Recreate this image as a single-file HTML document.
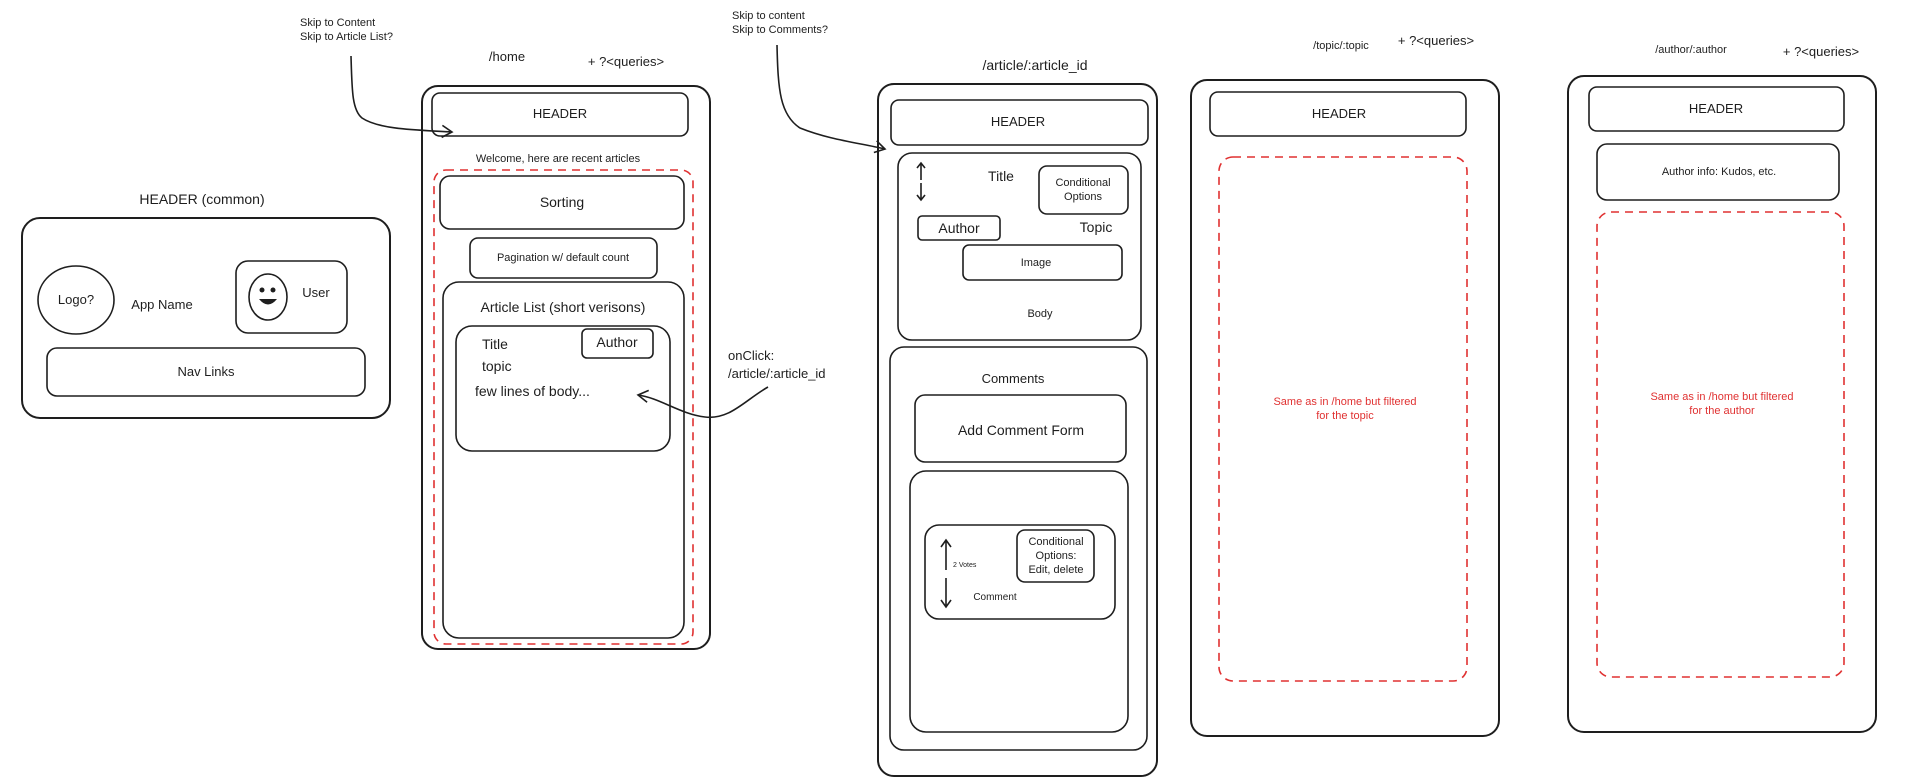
<!DOCTYPE html>
<html><head><meta charset="utf-8"><style>
html,body{margin:0;padding:0;background:#fff}
svg{display:block}
text{font-family:"Liberation Sans",sans-serif;fill:#1e1e1e}
.b{fill:none;stroke:#1e1e1e;stroke-width:2}
.t{fill:none;stroke:#1e1e1e;stroke-width:1.6}
.r{fill:none;stroke:#e03131;stroke-width:1.6;stroke-dasharray:8 6}
.red{fill:#e03131}
</style></head><body>
<svg width="1916" height="783" viewBox="0 0 1916 783" xmlns="http://www.w3.org/2000/svg">
<defs><marker id="ah" markerWidth="14" markerHeight="14" refX="11" refY="7" orient="auto" markerUnits="userSpaceOnUse"><path d="M1,1 L11,7 L1,13" fill="none" stroke="#1e1e1e" stroke-width="1.6"/></marker></defs>

<!-- common header -->
<text x="202" y="204" font-size="14" text-anchor="middle">HEADER (common)</text>
<rect class="b" x="22" y="218" width="368" height="200" rx="18"/>
<ellipse class="t" cx="76" cy="300" rx="38" ry="34"/>
<text x="76" y="304" font-size="13" text-anchor="middle">Logo?</text>
<text x="162" y="309" font-size="13" text-anchor="middle">App Name</text>
<rect class="t" x="236" y="261" width="111" height="72" rx="12"/>
<ellipse class="t" cx="268" cy="297" rx="19" ry="23"/>
<circle cx="262" cy="290" r="2.5" fill="#1e1e1e"/><circle cx="273" cy="290" r="2.5" fill="#1e1e1e"/>
<path d="M259,299 Q268,310 277,299 Z" fill="#1e1e1e"/>
<text x="316" y="297" font-size="13" text-anchor="middle">User</text>
<rect class="t" x="47" y="348" width="318" height="48" rx="10"/>
<text x="206" y="376" font-size="13" text-anchor="middle">Nav Links</text>

<!-- home -->
<text x="300" y="26" font-size="11">Skip to Content</text>
<text x="300" y="40" font-size="11">Skip to Article List?</text>
<path class="t" d="M351,56 C352,90 352,110 362,118 C380,130 420,130 452,132" marker-end="url(#ah)"/>
<text x="507" y="61" font-size="13" text-anchor="middle">/home</text>
<text x="626" y="66" font-size="13" text-anchor="middle">+ ?&lt;queries&gt;</text>
<rect class="b" x="422" y="86" width="288" height="563" rx="16"/>
<rect class="t" x="432" y="93" width="256" height="43" rx="8"/>
<text x="560" y="118" font-size="13" text-anchor="middle">HEADER</text>
<text x="558" y="162" font-size="11" text-anchor="middle">Welcome, here are recent articles</text>
<rect class="r" x="434" y="170" width="259" height="474" rx="12"/>
<rect class="t" x="440" y="176" width="244" height="53" rx="10"/>
<text x="562" y="207" font-size="14" text-anchor="middle">Sorting</text>
<rect class="t" x="470" y="238" width="187" height="40" rx="8"/>
<text x="563" y="261" font-size="11" text-anchor="middle">Pagination w/ default count</text>
<rect class="t" x="443" y="282" width="241" height="356" rx="16"/>
<text x="563" y="312" font-size="14" text-anchor="middle">Article List (short verisons)</text>
<rect class="t" x="456" y="326" width="214" height="125" rx="16"/>
<rect class="t" x="582" y="329" width="71" height="29" rx="5"/>
<text x="617" y="347" font-size="14" text-anchor="middle">Author</text>
<text x="482" y="349" font-size="14">Title</text>
<text x="482" y="371" font-size="14">topic</text>
<text x="475" y="396" font-size="14">few lines of body...</text>
<text x="728" y="360" font-size="13">onClick:</text>
<text x="728" y="378" font-size="13">/article/:article_id</text>
<path class="t" d="M768,387 C745,400 730,420 705,417 C680,414 660,398 638,395" marker-end="url(#ah)"/>

<!-- article -->
<text x="732" y="19" font-size="11">Skip to content</text>
<text x="732" y="33" font-size="11">Skip to Comments?</text>
<path class="t" d="M777,45 C778,90 780,115 800,128 C830,140 860,143 885,149" marker-end="url(#ah)"/>
<text x="1035" y="70" font-size="14" text-anchor="middle">/article/:article_id</text>
<rect class="b" x="878" y="84" width="279" height="692" rx="16"/>
<rect class="t" x="891" y="100" width="257" height="45" rx="8"/>
<text x="1018" y="126" font-size="13" text-anchor="middle">HEADER</text>
<rect class="t" x="898" y="153" width="243" height="187" rx="14"/>
<path class="t" d="M921,164 V180 M917,168 L921,163 L925,168 M921,183 V200 M917,195 L921,200 L925,195"/>
<text x="1001" y="181" font-size="14" text-anchor="middle">Title</text>
<rect class="t" x="1039" y="166" width="89" height="48" rx="8"/>
<text x="1083" y="186" font-size="11" text-anchor="middle">Conditional</text>
<text x="1083" y="200" font-size="11" text-anchor="middle">Options</text>
<rect class="t" x="918" y="216" width="82" height="24" rx="4"/>
<text x="959" y="233" font-size="14" text-anchor="middle">Author</text>
<text x="1096" y="232" font-size="14" text-anchor="middle">Topic</text>
<rect class="t" x="963" y="245" width="159" height="35" rx="6"/>
<text x="1036" y="266" font-size="11" text-anchor="middle">Image</text>
<text x="1040" y="317" font-size="11" text-anchor="middle">Body</text>
<rect class="t" x="890" y="347" width="257" height="403" rx="14"/>
<text x="1013" y="383" font-size="13" text-anchor="middle">Comments</text>
<rect class="t" x="915" y="395" width="211" height="67" rx="10"/>
<text x="1021" y="435" font-size="14" text-anchor="middle">Add Comment Form</text>
<rect class="t" x="910" y="471" width="218" height="261" rx="16"/>
<rect class="t" x="925" y="525" width="190" height="94" rx="14"/>
<path class="t" d="M946,540 V570 M941,547 L946,540 L951,547 M946,578 V607 M941,600 L946,607 L951,600"/>
<text x="953" y="567" font-size="7">2 Votes</text>
<rect class="t" x="1017" y="530" width="77" height="52" rx="8"/>
<text x="1056" y="545" font-size="11" text-anchor="middle">Conditional</text>
<text x="1056" y="559" font-size="11" text-anchor="middle">Options:</text>
<text x="1056" y="573" font-size="11" text-anchor="middle">Edit, delete</text>
<text x="995" y="600" font-size="10" text-anchor="middle">Comment</text>

<!-- topic -->
<text x="1341" y="49" font-size="11" text-anchor="middle">/topic/:topic</text>
<text x="1436" y="45" font-size="13" text-anchor="middle">+ ?&lt;queries&gt;</text>
<rect class="b" x="1191" y="80" width="308" height="656" rx="16"/>
<rect class="t" x="1210" y="92" width="256" height="44" rx="8"/>
<text x="1339" y="118" font-size="13" text-anchor="middle">HEADER</text>
<rect class="r" x="1219" y="157" width="248" height="524" rx="14"/>
<text class="red" x="1345" y="405" font-size="11" text-anchor="middle">Same as in /home but filtered</text>
<text class="red" x="1345" y="419" font-size="11" text-anchor="middle">for the topic</text>

<!-- author -->
<text x="1691" y="53" font-size="11" text-anchor="middle">/author/:author</text>
<text x="1821" y="56" font-size="13" text-anchor="middle">+ ?&lt;queries&gt;</text>
<rect class="b" x="1568" y="76" width="308" height="656" rx="16"/>
<rect class="t" x="1589" y="87" width="255" height="44" rx="8"/>
<text x="1716" y="113" font-size="13" text-anchor="middle">HEADER</text>
<rect class="t" x="1597" y="144" width="242" height="56" rx="10"/>
<text x="1719" y="175" font-size="11" text-anchor="middle">Author info: Kudos, etc.</text>
<rect class="r" x="1597" y="212" width="247" height="465" rx="14"/>
<text class="red" x="1722" y="400" font-size="11" text-anchor="middle">Same as in /home but filtered</text>
<text class="red" x="1722" y="414" font-size="11" text-anchor="middle">for the author</text>
</svg>
</body></html>
